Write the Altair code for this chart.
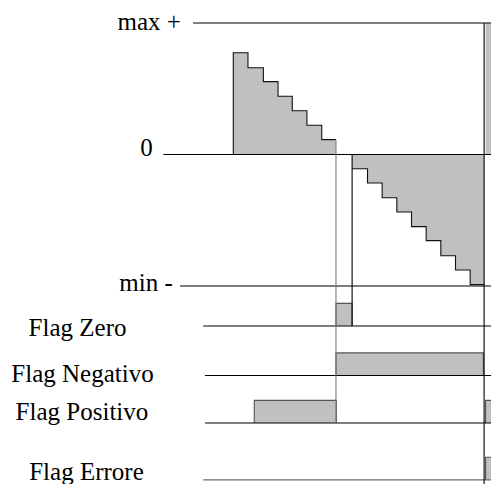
import altair as alt
import pandas as pd

# ---------------- data (time in step units, analog value: max+ = 1, min- = -1) ----
T_DOMAIN = [-15.361, 17.570]
V_DOMAIN = [-2.506, 1.114]
T_END = 18.6

# analog signal: positive staircase, negative staircase, overflow at the end
pos_edges = [0.0, 1.0, 2.05, 3.05, 4.02, 5.02, 6.03, 7.0]
pos_levels = [0.774, 0.660, 0.554, 0.443, 0.333, 0.222, 0.113]
neg_edges = [8.1, 9.15, 10.15, 11.15, 12.15, 13.15, 14.15, 15.15, 16.15, 17.1]
neg_levels = [-0.108, -0.217, -0.329, -0.437, -0.549, -0.655, -0.770, -0.878, -0.990]
over_edges = [17.2, T_END]
over_levels = [1.0]

# reference levels of the analog section
ref_names = ["max +", "0", "min -"]
ref_values = [1.0, 0.0, -1.0]
ref_line_start = [-2.75, -4.77, -3.63]
ref_label_t = [-3.57, -5.50, -4.13]
ref_label_v = [0.947, -0.008, -1.036]

# flags
flag_names = ["Flag Zero", "Flag Negativo", "Flag Positivo", "Flag Errore"]
flag_base = [-1.304, -1.681, -2.042, -2.475]
flag_line_start = [-2.05, -1.93, -1.93, -2.05]
flag_line_color = ["#000000", "#000000", "#000000", "#6a6a6a"]
flag_label_t = [-10.62, -10.28, -10.32, -10.01]
flag_label_v = [-1.380, -1.730, -2.019, -2.475]
flag_high = 0.172
flag_on = [[7.0], [7.0], [1.43, 17.2], [17.2]]
flag_off = [[8.1], [17.05], [7.03, T_END], [T_END]]

# vertical timing markers
mark_t = [7.0, 8.1, 17.1]
mark_top = [0.113, 0.0, 1.0]
mark_bottom = [-2.042, -1.304, -2.605]
mark_color = ["#7a7a7a", "#000000", "#000000"]

FILL = "#c0c0c0"
FONT = "'Liberation Serif', 'Times New Roman', serif"

# ---------------- tables ----------------
area_rows = []
for g, (edges, levels) in enumerate([(pos_edges, pos_levels), (neg_edges, neg_levels), (over_edges, over_levels)]):
    for i, tt in enumerate(edges):
        lv = levels[min(i, len(levels) - 1)]
        area_rows.append({"g": g, "t": tt, "v": lv, "v2": 0.0})
area_df = pd.DataFrame(area_rows)

outline_rows = []
o = 0
outline_rows.append({"g": "pos", "o": o, "t": pos_edges[0], "v": 0.0}); o += 1
for i, lv in enumerate(pos_levels):
    outline_rows.append({"g": "pos", "o": o, "t": pos_edges[i], "v": lv}); o += 1
    outline_rows.append({"g": "pos", "o": o, "t": pos_edges[i + 1], "v": lv}); o += 1
for i, lv in enumerate(neg_levels):
    outline_rows.append({"g": "neg", "o": o, "t": neg_edges[i], "v": lv}); o += 1
    outline_rows.append({"g": "neg", "o": o, "t": neg_edges[i + 1], "v": lv}); o += 1
outline_df = pd.DataFrame(outline_rows)

pulse_rows, pulse_line_rows = [], []
k = 0
for name, base, ons, offs in zip(flag_names, flag_base, flag_on, flag_off):
    for a, b in zip(ons, offs):
        pulse_rows.append({"t": a, "t2": b, "v": base, "v2": base + flag_high})
        for j, (tt, vv) in enumerate([(a, base), (a, base + flag_high), (b, base + flag_high), (b, base)]):
            pulse_line_rows.append({"g": k, "o": j, "t": tt, "v": vv})
        k += 1
pulse_df = pd.DataFrame(pulse_rows)
pulse_line_df = pd.DataFrame(pulse_line_rows)

hline_df = pd.DataFrame(
    {"t": ref_line_start + flag_line_start,
     "t2": [T_END] * 7,
     "v": ref_values + flag_base,
     "c": ["#000000"] * 3 + flag_line_color}
)

vline_df = pd.DataFrame({"t": mark_t, "v": mark_top, "v2": mark_bottom, "c": mark_color})

label_df = pd.DataFrame(
    {"text": ref_names + flag_names,
     "t": ref_label_t + flag_label_t,
     "v": ref_label_v + flag_label_v,
     "a": ["right"] * 3 + ["center"] * 4}
)

# ---------------- chart ----------------
X = alt.X("t:Q", scale=alt.Scale(domain=T_DOMAIN, nice=False, zero=False), axis=None)
Y = alt.Y("v:Q", scale=alt.Scale(domain=V_DOMAIN, nice=False, zero=False), axis=None)

steps = alt.Chart(area_df).mark_area(color=FILL, opacity=1, interpolate="step-after", clip=True).encode(
    x=X, y=Y, y2="v2:Q", detail="g:N")
outline = alt.Chart(outline_df).mark_line(color="#111111", strokeWidth=1.1, clip=True).encode(
    x=X, y=Y, detail="g:N", order="o:Q")
pulses = alt.Chart(pulse_df).mark_rect(color=FILL, clip=True).encode(x=X, x2="t2:Q", y=Y, y2="v2:Q")
pulse_lines = alt.Chart(pulse_line_df).mark_line(color="#555555", strokeWidth=1.1, clip=True).encode(
    x=X, y=Y, detail="g:N", order="o:Q")
hlines = alt.Chart(hline_df).mark_rule(strokeWidth=1.1, clip=True).encode(
    x=X, x2="t2:Q", y=Y, color=alt.Color("c:N", scale=None))
vlines = alt.Chart(vline_df).mark_rule(strokeWidth=1.1, clip=True).encode(
    x=X, y=Y, y2="v2:Q", color=alt.Color("c:N", scale=None))

labels_r = alt.Chart(label_df[label_df.a == "right"]).mark_text(
    align="right", baseline="alphabetic", font=FONT, fontSize=25, color="black").encode(
    x=X, y=Y, text="text:N")
labels_c = alt.Chart(label_df[label_df.a == "center"]).mark_text(
    align="center", baseline="alphabetic", font=FONT, fontSize=25, color="black").encode(
    x=X, y=Y, text="text:N")

chart = alt.layer(steps, pulses, outline, pulse_lines, hlines, vlines, labels_r, labels_c).properties(
    width=483, height=476, padding=0, autosize=alt.AutoSizeParams(type="none"),
    background="white",
).configure_view(stroke=None)

chart.save("out.html", embed_options={"renderer": "svg", "actions": False})
